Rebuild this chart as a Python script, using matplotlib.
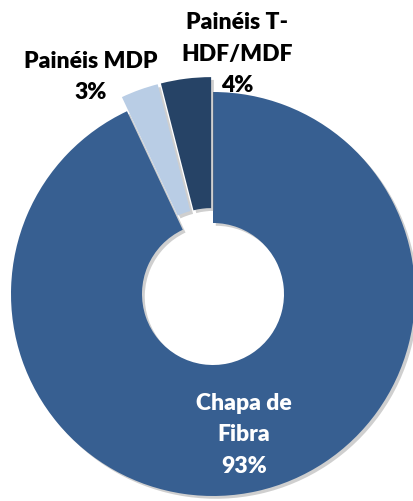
import matplotlib
matplotlib.use("Agg")
import matplotlib.pyplot as plt
import matplotlib.patheffects as pe

categories = ["Chapa de\nFibra", "Painéis MDP", "Painéis T-\nHDF/MDF"]
values = [93, 3, 4]
pct_labels = ["93%", "3%", "4%"]
colors = ["#375F91", "#B9CDE5", "#264366"]

W, H = 413, 502
fig = plt.figure(figsize=(W / 100, H / 100), dpi=100)
ax = fig.add_axes([0, 0, 1, 1])

cx, cy = 213, H - 295
R, r_in = 202, 71
explode = [0, 15, 15]

wedges, _ = ax.pie(values, colors=colors, startangle=90, counterclock=False,
                   radius=R, center=(cx, cy), explode=explode,
                   wedgeprops=dict(width=R - r_in, linewidth=0))
for w in wedges:
    w.set_path_effects([pe.SimplePatchShadow(offset=(2, -2), shadow_rgbFace="#777777", alpha=0.35),
                        pe.Normal()])

ax.set_xlim(0, W)
ax.set_ylim(0, H)
ax.set_aspect("equal")
ax.axis("off")

font = dict(family=["Lato", "DejaVu Sans"], fontweight="heavy", fontsize=16.5,
            ha="center", va="center", linespacing=1.62)

ax.text(244, H - 435, categories[0] + "\n" + pct_labels[0], color="white", **font)
ax.text(91, H - 77, categories[1] + "\n" + pct_labels[1], color="black", **font)
ax.text(237, H - 54, categories[2] + "\n" + pct_labels[2], color="black", **font)

fig.savefig("out.png", dpi=100)
